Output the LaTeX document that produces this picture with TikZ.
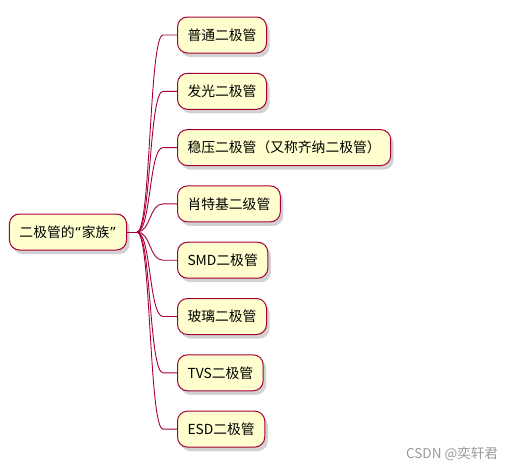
\documentclass[tikz,border=0pt]{standalone}
\usepackage{fontspec}
\setmainfont{Noto Sans CJK SC}
\newfontfamily\quotefont{DejaVu Sans}
\usetikzlibrary{shadows}
\definecolor{umlred}{HTML}{A80036}
\definecolor{umlfill}{HTML}{FEFECE}

\begin{document}
\begin{tikzpicture}[x=1pt, y=-1pt,
  box/.style={draw=umlred, fill=umlfill, line width=1pt, rounded corners=10pt,
    minimum height=36pt, inner xsep=10pt, font=\fontsize{13.8}{16}\selectfont,
    drop shadow={shadow xshift=3pt, shadow yshift=-4pt, fill=black!35}},
  conn/.style={umlred, line width=0.9pt}]
\useasboundingbox (0,0) rectangle (517,471);
% root
\node[box] (root) at (68,232) {二极管的{\quotefont “}家族{\quotefont ”}};
% children
\node[box, anchor=west] (c1) at (177,35) {普通二极管};
\node[box, anchor=west] (c2) at (177,91.3) {发光二极管};
\node[box, anchor=west] (c3) at (177,147.6) {稳压二极管（又称齐纳二极管）};
\node[box, anchor=west] (c4) at (177,203.9) {肖特基二级管};
\node[box, anchor=west] (c5) at (177,260.2) {SMD二极管};
\node[box, anchor=west] (c6) at (177,316.5) {玻璃二极管};
\node[box, anchor=west] (c7) at (177,372.8) {TVS二极管};
\node[box, anchor=west] (c8) at (177,429.1) {ESD二极管};
% connectors
\coordinate (fork) at ([xshift=10pt]root.east);
\draw[conn] (root.east) -- (fork);
\draw[conn] (fork) .. controls +(14,0) and +(-14,0) .. ([xshift=-14pt]c1.west) -- (c1.west);
\draw[conn] (fork) .. controls +(14,0) and +(-14,0) .. ([xshift=-14pt]c2.west) -- (c2.west);
\draw[conn] (fork) .. controls +(14,0) and +(-14,0) .. ([xshift=-14pt]c3.west) -- (c3.west);
\draw[conn] (fork) .. controls +(14,0) and +(-14,0) .. ([xshift=-14pt]c4.west) -- (c4.west);
\draw[conn] (fork) .. controls +(14,0) and +(-14,0) .. ([xshift=-14pt]c5.west) -- (c5.west);
\draw[conn] (fork) .. controls +(14,0) and +(-14,0) .. ([xshift=-14pt]c6.west) -- (c6.west);
\draw[conn] (fork) .. controls +(14,0) and +(-14,0) .. ([xshift=-14pt]c7.west) -- (c7.west);
\draw[conn] (fork) .. controls +(14,0) and +(-14,0) .. ([xshift=-14pt]c8.west) -- (c8.west);
% watermark
\node[text=black!40, font=\fontsize{13.5}{16}\selectfont] (mark) at (452,454) {CSDN @奕轩君};
\end{tikzpicture}
\end{document}
